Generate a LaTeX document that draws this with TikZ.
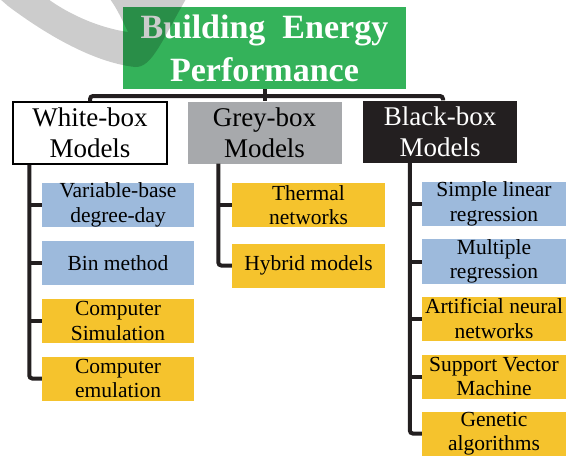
\documentclass[tikz,border=0pt]{standalone}
\usepackage{fontspec}
\setmainfont{Liberation Serif}
\definecolor{titlegreen}{RGB}{52,178,90}
\definecolor{greybox}{RGB}{167,169,172}
\definecolor{blackbox}{RGB}{35,31,32}
\definecolor{leafblue}{RGB}{157,186,220}
\definecolor{leafyellow}{RGB}{245,195,45}
\definecolor{linedark}{RGB}{35,31,32}
\begin{document}
\begin{tikzpicture}[x=1pt,y=-1pt,
  every node/.style={inner sep=0pt, align=center},
  headbox/.style={minimum width=154pt, minimum height=62pt,
    font=\fontsize{27}{31}\selectfont},
  leaf/.style={minimum height=44pt, font=\fontsize{21.5}{24.5}\selectfont},
  wleaf/.style={leaf, minimum width=152pt},
  gleaf/.style={leaf, minimum width=153pt},
  bleaf/.style={leaf, minimum width=144pt},
  conn/.style={line width=4pt, draw=linedark, rounded corners=3pt}]
\useasboundingbox (0,0) rectangle (567,455);

% root
\node[fill=titlegreen, minimum width=283pt, minimum height=82pt, text=white,
  font=\bfseries\fontsize{34}{43}\selectfont] (title) at (264.5,48)
  {Building\ \ Energy\\Performance};

% grey brush stroke across the upper left corner
\fill[black, opacity=0.2] (0,-1) -- (8,6)
  .. controls (40,30) and (90,62) .. (135,67)
  .. controls (152,68) and (162,40) .. (186,-1)
  -- (110,-1) .. controls (118,10) and (124,24) .. (128,32)
  .. controls (100,28) and (70,15) .. (48,-1) -- cycle;

% model families
\node[headbox, draw=black, line width=1.5pt, fill=white] (white) at (90,133)
  {White-box\\Models};
\node[headbox, fill=greybox] (grey) at (264.5,132.5) {Grey-box\\Models};
\node[headbox, fill=blackbox, text=white] (black) at (440,131.5)
  {Black-box\\Models};

% white-box methods
\node[wleaf, fill=leafblue] (w1) at (118,205) {Variable-base\\degree-day};
\node[wleaf, fill=leafblue] (w2) at (118,263) {Bin method};
\node[wleaf, fill=leafyellow] (w3) at (118,321) {Computer\\Simulation};
\node[wleaf, fill=leafyellow] (w4) at (118,378.5) {Computer\\emulation};

% grey-box methods
\node[gleaf, fill=leafyellow] (g1) at (308.5,205) {Thermal\\networks};
\node[gleaf, fill=leafyellow] (g2) at (308.5,265.5) {Hybrid models};

% black-box methods
\node[bleaf, fill=leafblue] (b1) at (494,204) {Simple linear\\regression};
\node[bleaf, fill=leafblue] (b2) at (494,261.5) {Multiple\\regression};
\node[bleaf, fill=leafyellow] (b3) at (494,318.5) {Artificial neural\\networks};
\node[bleaf, fill=leafyellow] (b4) at (494,376.5) {Support Vector\\Machine};
\node[bleaf, fill=leafyellow] (b5) at (494,433.5) {Genetic\\algorithms};

% root to families
\coordinate (bar) at (0,96);
\coordinate (bk) at (443,0);
\draw[conn] (title.south) -- (grey.north);
\draw[conn] (white.north) -- (white.north |- bar) -- (bk |- bar)
  -- (bk |- black.north);

% trunks with branches
\coordinate (wt) at ([xshift=17pt]white.south west);
\coordinate (gt) at ([xshift=31pt]grey.south west);
\coordinate (bt) at ([xshift=47pt]black.south west);

\draw[conn] (wt) |- (w4.west);
\foreach \n in {w1,w2,w3} \draw[conn] (wt |- \n.west) -- (\n.west);

\draw[conn] (gt) |- (g2.west);
\draw[conn] (gt |- g1.west) -- (g1.west);

\draw[conn] (bt) |- (b5.west);
\foreach \n in {b1,b2,b3,b4} \draw[conn] (bt |- \n.west) -- (\n.west);
\end{tikzpicture}
\end{document}
